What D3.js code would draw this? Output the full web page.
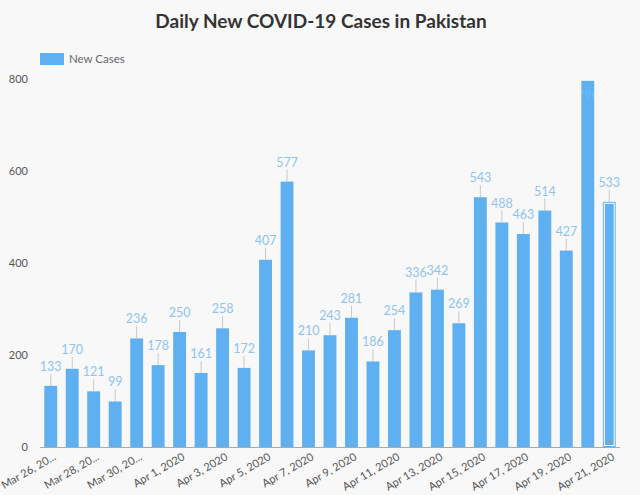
<!DOCTYPE html>
<html>
<head>
<meta charset="utf-8">
<script src="https://cdn.jsdelivr.net/npm/d3@7"></script>
<style>
  html, body { margin: 0; padding: 0; background: #f8f8f8; }
  svg { display: block; font-family: "Lato", "Noto Sans", sans-serif; }
</style>
</head>
<body>
<svg id="chart" width="640" height="495"></svg>
<script>
// data
const dates = ["Mar 26", "Mar 27", "Mar 28", "Mar 29", "Mar 30", "Mar 31",
  "Apr 1", "Apr 2", "Apr 3", "Apr 4", "Apr 5", "Apr 6", "Apr 7", "Apr 8", "Apr 9",
  "Apr 10", "Apr 11", "Apr 12", "Apr 13", "Apr 14", "Apr 15", "Apr 16", "Apr 17",
  "Apr 18", "Apr 19", "Apr 20", "Apr 21"];
const new_cases = [133, 170, 121, 99, 236, 178, 250, 161, 258, 172, 407, 577, 210,
  243, 281, 186, 254, 336, 342, 269, 543, 488, 463, 514, 427, 796, 533];
// shown every other day, the first three are cut short
const tick_labels = ["Mar 26, 20...", "Mar 28, 20...", "Mar 30, 20...", "Apr 1, 2020",
  "Apr 3, 2020", "Apr 5, 2020", "Apr 7, 2020", "Apr 9, 2020", "Apr 11, 2020",
  "Apr 13, 2020", "Apr 15, 2020", "Apr 17, 2020", "Apr 19, 2020", "Apr 21, 2020"];
const y_ticks = [0, 200, 400, 600, 800];

const barColor = '#5eb0f0';
const labelColor = '#8fc4ee';
const highlighted = 'Apr 21';

const svg = d3.select("#chart");

const x = d3.scaleBand().domain(dates).range([40, 620]).paddingInner(0.4).paddingOuter(0.2);
const y = d3.scaleLinear().domain([0, 800]).range([447, 79]);

// title
svg.append('text')
    .attr('x', 321)
    .attr('y', 28)
    .attr('text-anchor', 'middle')
    .style('font-size', '19px')
    .style('font-weight', 'bold')
    .style('fill', '#333')
    .text('Daily New COVID-19 Cases in Pakistan');

// legend
svg.append('rect')
    .attr('x', 40).attr('y', 53)
    .attr('width', 24).attr('height', 12)
    .style('fill', barColor);
svg.append('text')
    .attr('x', 69).attr('y', 63)
    .style('font-size', '11.5px')
    .style('fill', '#666')
    .text('New Cases');

// y axis, labels only
const yAxis = svg.append('g')
    .attr('transform', 'translate(28,0)')
    .call(d3.axisLeft(y).tickValues(y_ticks).tickSize(0).tickPadding(0));
yAxis.select('.domain').remove();
yAxis.selectAll('.tick text')
    .style('font-family', '"Lato", "Noto Sans", sans-serif')
    .style('font-size', '11px')
    .style('fill', '#555');

// bars
const bars = svg.append('g');
bars.selectAll('rect')
    .data(dates)
    .enter()
    .append('rect')
    .attr('x', d => x(d))
    .attr('y', (d, i) => y(new_cases[i]))
    .attr('width', x.bandwidth())
    .attr('height', (d, i) => y(0) - y(new_cases[i]))
    .style('fill', barColor);

// hovered last bar gets an outline
const hx = x(highlighted), hv = new_cases[dates.indexOf(highlighted)];
svg.append('rect')
    .attr('x', hx + 1.5).attr('y', y(hv) + 1.5)
    .attr('width', x.bandwidth() - 3).attr('height', y(0) - y(hv) - 3)
    .style('fill', 'none')
    .style('stroke', '#fff')
    .style('stroke-width', 1);

// x axis
const xAxis = svg.append('g')
    .attr('transform', `translate(0, ${y(0)})`)
    .call(d3.axisBottom(x).tickValues(dates.filter((d, i) => i % 2 === 0)).tickSize(0));
xAxis.select('.domain')
    .attr('d', 'M40,0.5H620')
    .style('stroke', '#aaa');
xAxis.selectAll('.tick text')
    .text((d, i) => tick_labels[i])
    .style('font-family', '"Lato", "Noto Sans", sans-serif')
    .style('font-size', '11px')
    .style('fill', '#555')
    .attr('text-anchor', 'end')
    .attr('dy', 0)
    .attr('y', 0)
    .attr('transform', 'translate(6, 12) rotate(-30)');

// value labels with leader lines
const vals = svg.append('g');
dates.forEach((d, i) => {
    const cx = x(d) + x.bandwidth() / 2;
    const top = y(new_cases[i]);
    if (top < 120) {
        // no room above, label sits inside the bar
        vals.append('text')
            .attr('x', cx).attr('y', top + 17)
            .attr('text-anchor', 'middle')
            .style('font-size', '12px')
            .style('fill', '#fff')
            .style('fill-opacity', 0.15)
            .text(new_cases[i]);
        return;
    }
    vals.append('line')
        .attr('x1', cx).attr('x2', cx)
        .attr('y1', top).attr('y2', top - 12)
        .style('stroke', '#c8c8c8')
        .style('stroke-width', 1);
    vals.append('text')
        .attr('x', cx).attr('y', top - 15)
        .attr('text-anchor', 'middle')
        .style('font-size', '12.5px')
        .style('fill', labelColor)
        .text(new_cases[i]);
});
</script>
</body>
</html>
